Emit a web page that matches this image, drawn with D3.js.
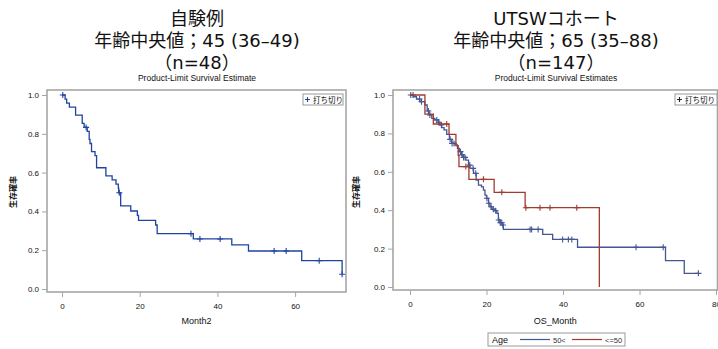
<!DOCTYPE html>
<html>
<head>
<meta charset="utf-8">
<script src="https://cdn.jsdelivr.net/npm/d3@7"></script>
<style>
body { margin: 0; background: #fff; }
text { font-family: "Liberation Sans", Arial, sans-serif; }
.jp { font-family: "Noto Sans CJK JP", sans-serif; }
.ttl { font-family: "DejaVu Sans", "Noto Sans CJK JP", sans-serif; }
</style>
</head>
<body>
<div id="plot"></div>
<script>
// left panel: own cases (n=48)
var leftTimes = [0, 0.8, 1.2, 1.9, 3.5, 5.2, 5.7, 6.5, 7.0, 7.2, 7.6, 8.5, 8.9, 11.3, 12.9, 13.9, 14.5, 14.6, 15.1, 17.7, 19.4, 19.7, 24.1, 24.5, 33.8, 43.7, 48.0, 61.7, 72.1];
var leftSurv  = [1.0, 0.979, 0.958, 0.9375, 0.896, 0.854, 0.833, 0.812, 0.771, 0.750, 0.708, 0.687, 0.625, 0.583, 0.5625, 0.541, 0.52, 0.496, 0.428, 0.402, 0.38, 0.354, 0.33, 0.285, 0.258, 0.227, 0.196, 0.146, 0.076];
var leftCensor = [0.2, 6.2, 14.75, 33.2, 35.5, 40.7, 54.6, 57.7, 66.2, 72.1];

// right panel: UTSW cohort, Age 50<
var oldTimes = [0, 0.9, 1.7, 2.6, 3.9, 4.5, 5.0, 5.7, 6.5, 7.4, 7.8, 8.3, 8.9, 9.6, 10.3, 10.9, 11.8, 12.4, 12.9, 13.5, 13.9, 14.6, 15.3, 15.7, 16.6, 17.3, 17.9, 18.7, 19.2, 19.6, 20.0, 20.5, 20.9, 21.4, 22.2, 22.7, 23.1, 23.5, 24.2, 24.4, 34.7, 37.3, 43.8, 66.8, 71.7, 75.4];
var oldSurv  = [1.0, 0.991, 0.979, 0.965, 0.948, 0.917, 0.896, 0.878, 0.870, 0.858, 0.844, 0.830, 0.818, 0.795, 0.769, 0.748, 0.740, 0.722, 0.705, 0.688, 0.675, 0.661, 0.635, 0.618, 0.592, 0.557, 0.531, 0.522, 0.505, 0.479, 0.462, 0.436, 0.418, 0.405, 0.397, 0.384, 0.349, 0.335, 0.323, 0.300, 0.274, 0.248, 0.207, 0.137, 0.071, 0.071];
var oldCensor = [0.2, 0.8, 2.5, 3.0, 4.8, 5.2, 7.0, 7.5, 8.2, 10.5, 11.0, 11.5, 13.2, 13.6, 14.0, 14.4, 15.6, 16.5, 17.2, 20.1, 20.6, 21.2, 21.8, 22.4, 23.2, 23.6, 24.0, 24.3, 31.4, 31.8, 33.5, 39.9, 41.4, 42.3, 59.1, 66.2, 75.4];

// right panel: UTSW cohort, Age <=50
var youngTimes = [0, 3.9, 6.1, 10.2, 12.0, 12.6, 12.8, 15.4, 22.0, 30.1, 49.5];
var youngSurv  = [1.0, 0.90, 0.849, 0.795, 0.736, 0.684, 0.627, 0.561, 0.493, 0.413, 0.0];
var youngCensor = [9.6, 14.6, 19.2, 24.0, 30.3, 34.0, 36.6, 43.6];

var yTicks = [0, 0.2, 0.4, 0.6, 0.8, 1.0];
var leftXTicks = [0, 20, 40, 60];
var rightXTicks = [0, 20, 40, 60, 80];
var ageLabels = ["50<", "<=50"];

var W = 718, H = 349;
var svg = d3.select("#plot").append("svg")
	.attr("width", W)
	.attr("height", H);

var frameColor = "#a6a6a6";

function survAt(times, surv, t){
	var s = surv[0];
	for(var i = 0; i < times.length; i++){
		if(times[i] <= t) s = surv[i];
	}
	return s;
}

function panel(p){
	var x = d3.scaleLinear().domain([0, p.xMax]).range([p.x0, p.x0 + p.xMax * p.xk]);
	var y = d3.scaleLinear().domain([0, 1]).range([p.y0, p.y1]);

	// titles, one text per line
	p.titles.forEach(function(s, i){
		svg.append("text").attr("class", "ttl")
			.attr("x", p.cx).attr("y", 25 + i * 22)
			.attr("text-anchor", "middle")
			.attr("font-size", 18)
			.attr("fill", "#111")
			.text(s);
	});
	svg.append("text")
		.attr("x", p.cx).attr("y", 81)
		.attr("text-anchor", "middle")
		.attr("font-size", 8.5)
		.attr("fill", "#111")
		.text(p.sub);

	// frame
	svg.append("rect")
		.attr("x", p.left).attr("y", p.top)
		.attr("width", p.right - p.left).attr("height", p.bottom - p.top)
		.attr("fill", "none")
		.attr("stroke", frameColor)
		.attr("stroke-width", 1.6);

	// y axis
	var ya = svg.append("g")
		.attr("transform", "translate(" + p.left + ",0)")
		.call(d3.axisLeft(y).tickValues(yTicks).tickFormat(d3.format(".1f")).tickSize(5).tickPadding(3));
	ya.select(".domain").remove();
	ya.selectAll("line").attr("stroke", frameColor);
	ya.selectAll("text").attr("font-size", 8).attr("fill", "#111").attr("font-family", "Liberation Sans, Arial, sans-serif");

	// x axis
	var xa = svg.append("g")
		.attr("transform", "translate(0," + p.bottom + ")")
		.call(d3.axisBottom(x).tickValues(p.xTicks).tickSize(5).tickPadding(6));
	xa.select(".domain").remove();
	xa.selectAll("line").attr("stroke", frameColor);
	xa.selectAll("text").attr("font-size", 8).attr("fill", "#111").attr("font-family", "Liberation Sans, Arial, sans-serif");

	svg.append("text")
		.attr("x", (p.left + p.right) / 2).attr("y", 324)
		.attr("text-anchor", "middle")
		.attr("font-size", 9)
		.attr("fill", "#111")
		.text(p.xLabel);

	svg.append("text").attr("class", "jp")
		.attr("transform", "translate(" + p.yLabelX + ",192) rotate(-90)")
		.attr("text-anchor", "middle")
		.attr("font-size", 8)
		.attr("font-weight", "bold")
		.attr("fill", "#111")
		.text("生存確率");

	// curves
	var line = d3.line()
		.x(function(d){ return x(d[0]); })
		.y(function(d){ return y(d[1]); })
		.curve(d3.curveStepAfter);

	var g = svg.append("g");
	p.series.forEach(function(s){
		var pts = s.times.map(function(tm, i){ return [tm, s.surv[i]]; });
		g.append("path")
			.attr("d", line(pts))
			.attr("fill", "none")
			.attr("stroke", s.color)
			.attr("stroke-width", 1.3);
		g.selectAll(null)
			.data(s.censor)
			.enter().append("path")
			.attr("transform", function(d){ return "translate(" + x(d) + "," + y(survAt(s.times, s.surv, d)) + ")"; })
			.attr("d", "M-3,0H3M0,-3V3")
			.attr("stroke", s.color)
			.attr("stroke-width", 1.1);
	});

	// censor legend (top right)
	var lg = svg.append("g").attr("transform", "translate(" + p.legX + ",94)");
	lg.append("rect")
		.attr("width", p.legW).attr("height", 11)
		.attr("fill", "#fff")
		.attr("stroke", "#999")
		.attr("stroke-width", 1);
	lg.append("path")
		.attr("d", "M2,5.5H7M4.5,3V8")
		.attr("stroke", p.legMarkColor)
		.attr("stroke-width", 1.1);
	lg.append("text").attr("class", "jp")
		.attr("x", 10).attr("y", 8.5)
		.attr("font-size", 7.5)
		.attr("fill", "#111")
		.text("打ち切り");
}

panel({
	titles: ["自験例", "年齢中央値；45 (36–49)", "（n=48）"],
	sub: "Product-Limit Survival Estimate",
	cx: 197,
	left: 47, right: 346, top: 90, bottom: 292,
	x0: 62, xk: 3.885, xMax: 60, xTicks: leftXTicks,
	y0: 289, y1: 95,
	xLabel: "Month2",
	yLabelX: 16,
	legX: 303, legW: 40, legMarkColor: "#1f44a0",
	series: [{times: leftTimes, surv: leftSurv, censor: leftCensor, color: "#1f44a0"}]
});

panel({
	titles: ["UTSWコホート", "年齢中央値；65 (35–88)", "（n=147）"],
	sub: "Product-Limit Survival Estimates",
	cx: 556,
	left: 393, right: 717.5, top: 90, bottom: 290,
	x0: 410, xk: 3.825, xMax: 80, xTicks: rightXTicks,
	y0: 287, y1: 95,
	xLabel: "OS_Month",
	yLabelX: 359,
	legX: 675, legW: 42, legMarkColor: "#222",
	series: [
		{times: oldTimes, surv: oldSurv, censor: oldCensor, color: "#445694"},
		{times: youngTimes, surv: youngSurv, censor: youngCensor, color: "#a23a2e"}
	]
});

// Age legend (bottom right)
var ag = svg.append("g").attr("transform", "translate(488,333)");
ag.append("rect")
	.attr("width", 137).attr("height", 13)
	.attr("fill", "#fff")
	.attr("stroke", "#999");
ag.append("text").attr("x", 4).attr("y", 10).attr("font-size", 9).attr("fill", "#111").text("Age");
var ageColors = ["#445694", "#a23a2e"];
var ageX = [32, 84];
ageLabels.forEach(function(lab, i){
	ag.append("line")
		.attr("x1", ageX[i]).attr("x2", ageX[i] + 30)
		.attr("y1", 6.5).attr("y2", 6.5)
		.attr("stroke", ageColors[i])
		.attr("stroke-width", 1.2);
	ag.append("text")
		.attr("x", ageX[i] + 33).attr("y", 9.5)
		.attr("font-size", 7.5)
		.attr("fill", "#333")
		.text(lab);
});
</script>
</body>
</html>
